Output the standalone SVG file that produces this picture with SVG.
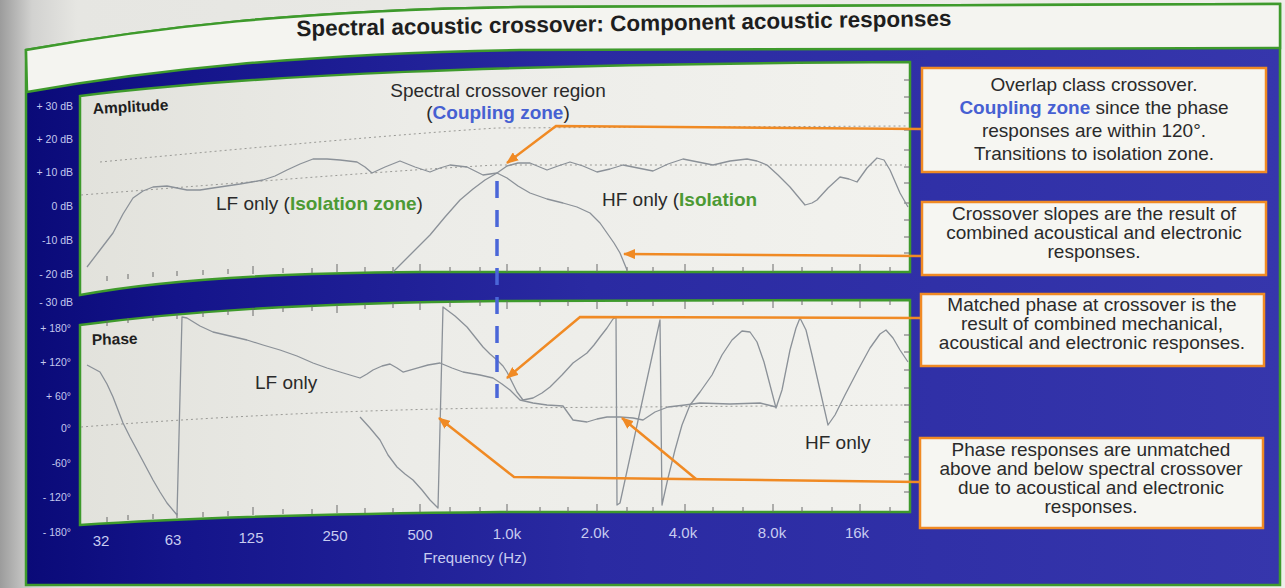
<svg xmlns="http://www.w3.org/2000/svg" width="1285" height="588" viewBox="0 0 1285 588">
  <defs>
    <linearGradient id="page" x1="0" y1="0" x2="1" y2="0">
      <stop offset="0" stop-color="#9c9c9c"/>
      <stop offset="0.025" stop-color="#d2d2d0"/>
      <stop offset="0.06" stop-color="#e6e6e2"/>
      <stop offset="1" stop-color="#eeeeea"/>
    </linearGradient>
    <linearGradient id="band" x1="0" y1="0" x2="1" y2="0">
      <stop offset="0" stop-color="#0a0a78"/>
      <stop offset="0.12" stop-color="#14148a"/>
      <stop offset="0.45" stop-color="#2a2aa2"/>
      <stop offset="1" stop-color="#3636ac"/>
    </linearGradient>
    <linearGradient id="plot" x1="0" y1="0" x2="1" y2="0">
      <stop offset="0" stop-color="#e2e2dc"/>
      <stop offset="0.4" stop-color="#ececE8"/>
      <stop offset="1" stop-color="#f2f2ee"/>
    </linearGradient>
    <marker id="arrow" viewBox="0 0 12 10" refX="11" refY="5" markerWidth="12" markerHeight="10" markerUnits="userSpaceOnUse" orient="auto">
      <path d="M0,0 L12,5 L0,10 Z" fill="#f08a24"/>
    </marker>
    <style>
      .frame { stroke: #3e9a2c; stroke-width: 2.5; }
      .plot { fill: url(#plot); stroke: #3e9a2c; stroke-width: 2.5; }
      .curve { fill: none; stroke: #8b9198; stroke-width: 1.3; stroke-linejoin: round; }
      .grid { fill: none; stroke: #9a9a96; stroke-width: 1; stroke-dasharray: 2 3; }
      .tick { stroke: #6a6a6a; stroke-width: 1; }
      .axis { font-family: "Liberation Sans", Arial, sans-serif; font-size: 10.5px; fill: #c4c8ee; text-anchor: end; }
      .freq { font-family: "Liberation Sans", Arial, sans-serif; font-size: 15px; fill: #c8ccf0; text-anchor: middle; }
      .panel-title { font-family: "Liberation Sans", Arial, sans-serif; font-size: 15.5px; font-weight: bold; fill: #1e1e1e; }
      .label { font-family: "Liberation Sans", Arial, sans-serif; font-size: 19px; fill: #2a2a2a; }
      .green { fill: #4c9a34; font-weight: bold; }
      .blue { fill: #4660d2; font-weight: bold; }
      .box { fill: #f6f6f2; stroke: #f08a24; stroke-width: 2.5; }
      .note { font-family: "Liberation Sans", Arial, sans-serif; font-size: 19px; fill: #2a2a2a; text-anchor: middle; }
      .lead { fill: none; stroke: #f08a24; stroke-width: 2.5; }
    </style>
  </defs>

  <!-- page -->
  <rect x="0" y="0" width="1285" height="588" fill="url(#page)"/>

  <!-- outer frame with blue band -->
  <g id="frame">
    <path class="frame" d="M26,50 C150,28 300,10 520,7 L1280,4 L1280,585 L26,585 Z" fill="url(#band)"/>
  </g>

  <!-- title strip -->
  <g id="title">
    <path class="frame" d="M26,50 C150,28 300,10 520,7 L1280,4 L1280,48 L520,50 C300,54 150,70 27,92 Z" fill="#f4f4f0"/>
    <text x="624" y="31" transform="rotate(-0.9 624 31)" font-family="'Liberation Sans', Arial, sans-serif" font-size="22.5" font-weight="bold" fill="#1e1e1e" text-anchor="middle">Spectral acoustic crossover: Component acoustic responses</text>
  </g>

  <!-- amplitude plot -->
  <g id="amplitude-panel">
    <path class="plot" d="M80,96 C250,75 500,64 910,62 L910,272 L420,272 C250,273 150,282 80,295 Z"/>
    <path class="grid" d="M100,162 C250,148 400,134 497,128 L906,126"/>
    <path class="grid" d="M81,195 C250,182 400,170 497,165 L906,165"/>
    <g class="tick">
      <path d="M107,281 v-5 M128,279 v-5 M153,277 v-5 M177,276 v-5 M203,275 v-5 M228,274 v-5 M253,274 v-8 M283,273 v-5 M312,273 v-5 M337,272 v-8 M365,272 v-5 M393,272 v-5 M420,272 v-8 M450,272 v-5 M480,272 v-5 M507,272 v-8 M540,272 v-5 M568,272 v-5 M597,272 v-8 M627,272 v-5 M653,272 v-5 M685,272 v-8 M713,272 v-5 M743,272 v-5 M773,272 v-8 M802,272 v-5 M832,272 v-5 M860,272 v-8 M890,272 v-5"/>
      <path d="M910,80 h-6 M910,97 h-6 M910,113 h-6 M910,130 h-6 M910,150 h-6 M910,167 h-6 M910,183 h-6 M910,203 h-6 M910,220 h-6 M910,237 h-6 M910,253 h-6"/>
    </g>
    <polyline class="curve" points="87,267 100,250 113,233 123,214 133,198 143,191 153,187 167,186 187,190 200,190 213,188 240,184 263,180 275,176 287,170 300,164 313,159 327,159 340,160 357,162 365,167 372,173 385,167 400,161 415,167 430,172 440,168 450,165 467,167 483,175 497,173 507,178 518,186 530,193 547,199 563,203 577,207 590,213 600,223 607,233 614,243 620,253 627,270"/>
    <polyline class="curve" points="393,272 410,255 430,235 445,217 460,200 473,189 485,180 497,173 507,166 518,163 530,163 547,170 558,166 570,162 583,166 597,172 610,169 623,165 638,168 653,171 668,164 683,159 698,162 713,165 730,161 747,159 757,161 767,165 778,175 790,187 805,205 812,203 817,200 828,188 840,177 849,179 857,182 867,168 877,158 884,160 890,170 900,193 908,207"/>
    <text class="panel-title" x="93" y="114" transform="rotate(-3 93 114)">Amplitude</text>
    <text class="label" x="498" y="97" text-anchor="middle">Spectral crossover region</text>
    <text class="label" x="498" y="119" text-anchor="middle">(<tspan class="blue">Coupling zone</tspan>)</text>
    <text class="label" x="216" y="210" font-size="18">LF only (<tspan class="green">Isolation zone</tspan>)</text>
    <text class="label" x="602" y="206">HF only (<tspan class="green">Isolation</tspan></text>
  </g>

  <!-- phase plot -->
  <g id="phase-panel">
    <path class="plot" d="M80,325 C180,312 300,303 500,301 L910,300 L910,512 L500,512 C300,514 180,518 80,525 Z"/>
    <path class="grid" d="M81,427 C250,414 400,409 500,408 L906,405"/>
    <g class="tick">
      <path d="M107,321 v5 M128,318 v5 M153,316 v5 M177,314 v5 M203,312 v5 M228,310 v5 M253,308 v8 M283,307 v5 M312,306 v5 M337,305 v8 M365,304 v5 M393,303 v5 M420,302 v8 M450,302 v5 M480,301 v5 M507,301 v8 M540,301 v5 M568,301 v5 M597,301 v8 M627,301 v5 M653,301 v5 M685,301 v8 M713,300 v5 M743,300 v5 M773,300 v8 M802,300 v5 M832,300 v5 M860,300 v8 M890,300 v5"/>
      <path d="M107,522 v-5 M128,520 v-5 M153,519 v-5 M177,518 v-5 M203,517 v-5 M228,516 v-5 M253,515 v-8 M283,514 v-5 M312,514 v-5 M337,513 v-8 M365,513 v-5 M393,513 v-5 M420,512 v-8 M450,512 v-5 M480,512 v-5 M507,512 v-8 M540,512 v-5 M568,512 v-5 M597,512 v-8 M627,512 v-5 M653,512 v-5 M685,512 v-8 M713,512 v-5 M743,512 v-5 M773,512 v-8 M802,512 v-5 M832,512 v-5 M860,512 v-8 M890,512 v-5"/>
      <path d="M910,318 h-6 M910,335 h-6 M910,352 h-6 M910,370 h-6 M910,388 h-6 M910,405 h-6 M910,422 h-6 M910,440 h-6 M910,457 h-6 M910,474 h-6 M910,492 h-6"/>
    </g>
    <polyline class="curve" points="87,365 100,372 107,384 113,397 118,410 123,423 130,437 137,450 145,465 153,480 160,492 167,503 177,515 182,317 187,318 200,326 213,332 230,336 247,340 263,345 280,350 297,356 313,363 327,368 340,372 350,375 360,378 367,374 373,370 382,366 390,364 397,368 403,372 410,370 417,368 428,365 440,363 452,368 463,372 480,375 493,378 502,384 510,390 520,400 533,403 547,405 563,406 568,413 573,420 587,422 597,419 607,417 620,417 633,418 643,420 655,412 668,407 685,405 700,403 730,404 760,403 776,407"/>
    <polyline class="curve" points="360,417 370,428 380,440 388,455 397,467 405,474 413,480 422,490 430,500 438,508 443,307 455,316 467,327 475,337 483,347 490,354 497,360 503,366 507,372 512,382 517,392 523,400 533,398 542,393 550,387 562,375 573,363 580,358 587,353 594,345 600,337 607,328 613,319 616,317 617,505 620,503 660,320 662,505 668,478 675,450 682,425 690,405 700,392 712,375 722,355 732,340 742,331 750,332 757,342 764,362 770,385 776,408 782,390 790,350 796,328 800,318 806,330 812,355 820,390 828,425 835,415 845,395 858,370 870,348 880,334 886,330 893,338 900,350 908,362"/>
    <text class="panel-title" x="92" y="345" transform="rotate(-1.5 92 345)">Phase</text>
    <text class="label" x="255" y="389" font-size="18">LF only</text>
    <text class="label" x="805" y="449">HF only</text>
  </g>

  <!-- crossover marker -->
  <g id="crossover-marker">
    <line x1="497" y1="181" x2="497" y2="398" stroke="#4a66d8" stroke-width="3.5" stroke-dasharray="17 12"/>
  </g>

  <!-- axis labels -->
  <g id="amplitude-axis" class="axis">
    <text x="73" y="110">+ 30 dB</text>
    <text x="73" y="143">+ 20 dB</text>
    <text x="73" y="176">+ 10 dB</text>
    <text x="73" y="210">0 dB</text>
    <text x="73" y="244">-10 dB</text>
    <text x="73" y="278">- 20 dB</text>
    <text x="73" y="306">- 30 dB</text>
  </g>
  <g id="phase-axis" class="axis">
    <text x="71" y="332">+ 180°</text>
    <text x="71" y="366">+ 120°</text>
    <text x="71" y="400">+ 60°</text>
    <text x="71" y="432">0°</text>
    <text x="71" y="467">-60°</text>
    <text x="71" y="501">- 120°</text>
    <text x="71" y="536">- 180°</text>
  </g>
  <g id="frequency-axis" class="freq">
    <text x="101" y="546">32</text>
    <text x="173" y="545">63</text>
    <text x="251" y="543">125</text>
    <text x="335" y="541">250</text>
    <text x="420" y="540">500</text>
    <text x="507" y="539">1.0k</text>
    <text x="595" y="538">2.0k</text>
    <text x="683" y="538">4.0k</text>
    <text x="772" y="538">8.0k</text>
    <text x="857" y="538">16k</text>
    <text x="475" y="563">Frequency (Hz)</text>
  </g>

  <!-- callouts -->
  <g id="callout-overlap">
    <rect class="box" x="922" y="68" width="344" height="104"/>
    <text class="note" x="1094" y="91">Overlap class crossover.</text>
    <text class="note" x="1094" y="114"><tspan class="blue">Coupling zone</tspan> since the phase</text>
    <text class="note" x="1094" y="137">responses are within 120°.</text>
    <text class="note" x="1094" y="160">Transitions to isolation zone.</text>
  </g>
  <g id="callout-slopes">
    <rect class="box" x="922" y="202" width="344" height="73"/>
    <text class="note" x="1094" y="220">Crossover slopes are the result of</text>
    <text class="note" x="1094" y="239">combined acoustical and electronic</text>
    <text class="note" x="1094" y="258">responses.</text>
  </g>
  <g id="callout-matched">
    <rect class="box" x="921" y="294" width="343" height="72"/>
    <text class="note" x="1092" y="311">Matched phase at crossover is the</text>
    <text class="note" x="1092" y="330">result of combined mechanical,</text>
    <text class="note" x="1092" y="349">acoustical and electronic responses.</text>
  </g>
  <g id="callout-unmatched">
    <rect class="box" x="920" y="438" width="343" height="90"/>
    <text class="note" x="1091" y="456">Phase responses are unmatched</text>
    <text class="note" x="1091" y="475">above and below spectral crossover</text>
    <text class="note" x="1091" y="494">due to acoustical and electronic</text>
    <text class="note" x="1091" y="513">responses.</text>
  </g>

  <!-- connectors -->
  <g id="connectors">
    <path class="lead" d="M921,129 L556,126 L507,163" marker-end="url(#arrow)"/>
    <path class="lead" d="M921,256 L624,254" marker-end="url(#arrow)"/>
    <path class="lead" d="M920,318 L580,317 L507,378" marker-end="url(#arrow)"/>
    <path class="lead" d="M919,482 L514,477 L439,418" marker-end="url(#arrow)"/>
    <path class="lead" d="M696,479 L622,418" marker-end="url(#arrow)"/>
  </g>
</svg>
